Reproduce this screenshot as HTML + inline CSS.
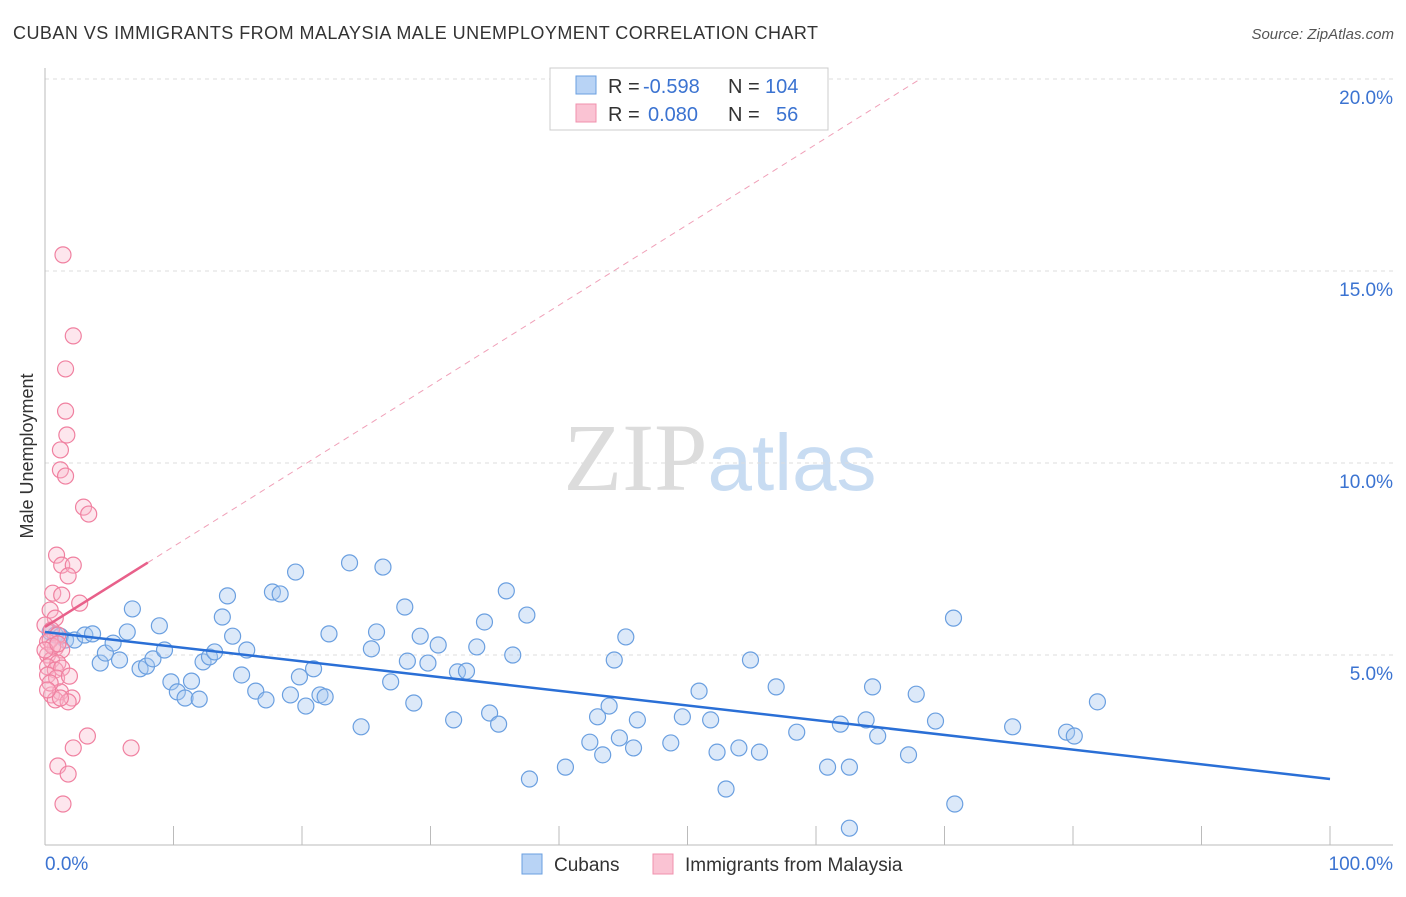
<!DOCTYPE html>
<html><head><meta charset="utf-8"><style>
body{margin:0;background:#fff;font-family:"Liberation Sans",sans-serif;}
svg text{font-family:"Liberation Sans",sans-serif;}
</style></head><body>
<svg id="chart" width="1406" height="892" viewBox="0 0 1406 892">
<text x="13" y="39" font-size="18" fill="#333" textLength="805" lengthAdjust="spacing">CUBAN VS IMMIGRANTS FROM MALAYSIA MALE UNEMPLOYMENT CORRELATION CHART</text>
<text x="1394" y="39" font-size="15" fill="#555" text-anchor="end" font-style="italic">Source: ZipAtlas.com</text>
<text x="720" y="490" font-size="96" text-anchor="middle"><tspan fill="#dcdcdc" font-family="Liberation Serif">ZIP</tspan><tspan fill="#c8dcf2" font-size="80">atlas</tspan></text>
<text transform="translate(33,456) rotate(-90)" font-size="18" fill="#333" text-anchor="middle">Male Unemployment</text>
<g id="grid"></g><g id="axes"></g><g id="marks"></g>
<g>
<rect x="550" y="68" width="278" height="62" fill="#fff" stroke="#ccc"/>
<rect x="576" y="76" width="20" height="18" fill="#b8d3f5" stroke="#6a9fe0"/>
<rect x="576" y="104" width="20" height="18" fill="#fac3d3" stroke="#f090ae"/>
<text x="608" y="93" font-size="20" fill="#333">R =</text>
<text x="643" y="93" font-size="20" fill="#3b73d1">-0.598</text>
<text x="728" y="93" font-size="20" fill="#333">N =</text>
<text x="765" y="93" font-size="20" fill="#3b73d1">104</text>
<text x="608" y="121" font-size="20" fill="#333">R =</text>
<text x="648" y="121" font-size="20" fill="#3b73d1">0.080</text>
<text x="728" y="121" font-size="20" fill="#333">N =</text>
<text x="776" y="121" font-size="20" fill="#3b73d1">56</text>
</g>
<g>
<rect x="522" y="854" width="20" height="20" fill="#b8d3f5" stroke="#6a9fe0"/>
<text x="554" y="871" font-size="19" fill="#333">Cubans</text>
<rect x="653" y="854" width="20" height="20" fill="#fac3d3" stroke="#f090ae"/>
<text x="685" y="871" font-size="19" fill="#333">Immigrants from Malaysia</text>
</g>
</svg>
<script>
const yTicks=[5,10,15,20];
const yTickLabels=["5.0%","10.0%","15.0%","20.0%"];
const cubanX=[0.4,0.8,1.2,1.6,2.3,3.1,3.7,4.3,4.7,5.3,5.8,6.4,6.8,7.4,7.9,8.4,8.9,9.3,9.8,10.3,10.9,11.4,12.0,12.3,12.8,13.2,13.8,14.2,14.6,15.3,15.7,16.4,17.2,17.7,18.3,19.1,19.5,19.8,20.3,20.9,21.4,21.8,22.1,23.7,24.6,25.4,25.8,26.3,26.9,28.0,28.2,28.7,29.2,29.8,30.6,31.8,32.1,32.8,33.6,34.2,34.6,35.3,35.9,36.4,37.5,37.7,40.5,42.4,43.0,43.4,43.9,44.3,44.7,45.2,45.8,46.1,48.7,49.6,50.9,51.8,52.3,53.0,54.0,54.9,55.6,56.9,58.5,60.9,61.9,62.6,62.6,63.9,64.4,64.8,67.2,67.8,69.3,70.7,70.8,75.3,79.5,80.1,81.9];
const cubanY=[5.60,5.52,5.49,5.39,5.39,5.52,5.55,4.79,5.05,5.31,4.87,5.60,6.20,4.64,4.71,4.90,5.76,5.13,4.30,4.04,3.88,4.32,3.85,4.82,4.95,5.08,5.99,6.54,5.49,4.48,5.13,4.06,3.83,6.64,6.59,3.96,7.16,4.43,3.67,4.64,3.96,3.91,5.55,7.40,3.13,5.16,5.60,7.29,4.30,6.25,4.84,3.75,5.49,4.79,5.26,3.31,4.56,4.58,5.21,5.86,3.49,3.20,6.67,5.00,6.04,1.77,2.08,2.73,3.39,2.40,3.67,4.87,2.84,5.47,2.58,3.31,2.71,3.39,4.06,3.31,2.47,1.51,2.58,4.87,2.47,4.17,2.99,2.08,3.20,0.49,2.08,3.31,4.17,2.89,2.40,3.98,3.28,5.96,1.12,3.13,2.99,2.89,3.78];
const malayX=[1.4,2.2,1.6,1.6,1.7,1.2,1.2,1.6,3.0,3.4,0.9,1.3,2.2,1.8,0.6,1.3,2.7,0.4,0.8,0.0,0.5,1.0,0.2,0.8,1.3,0.2,0.5,1.0,0.2,0.8,1.3,0.2,0.9,1.9,0.5,1.2,2.1,0.8,1.8,2.2,3.3,6.7,1.0,1.8,1.4,0.4,0.6,0.0,1.0,0.4,1.2,0.2];
const malayY=[15.42,13.31,12.45,11.35,10.73,10.34,9.82,9.66,8.85,8.67,7.60,7.34,7.34,7.06,6.61,6.56,6.35,6.17,5.96,5.78,5.65,5.52,5.34,5.18,5.13,5.00,4.87,4.79,4.69,4.61,4.66,4.48,4.40,4.45,3.96,4.04,3.88,3.83,3.78,2.58,2.89,2.58,2.11,1.90,1.12,5.39,5.23,5.13,5.29,4.27,3.88,4.09];
const cubanTrend=[5.60,-0.0383];
const malayTrend=[5.73,0.2095];
const NS="http://www.w3.org/2000/svg";
const sx=v=>45+v*12.85, sy=v=>847-v*38.4;
function mk(p,tag,at){const e=document.createElementNS(NS,tag);for(const k in at)e.setAttribute(k,at[k]);p.appendChild(e);return e;}
const grid=document.getElementById('grid'),axes=document.getElementById('axes'),marks=document.getElementById('marks');
yTicks.forEach((t,i)=>{
 const l=mk(grid,'line',{x1:45,x2:1393,y1:sy(t),y2:sy(t),stroke:'#ddd','stroke-dasharray':'4,4'});
 
 
 const tx=mk(axes,'text',{x:1393,y:sy(t)+25,'font-size':19,fill:'#3b73d1','text-anchor':'end'});tx.textContent=yTickLabels[i];
 
 
});
mk(axes,'line',{x1:45,x2:45,y1:68,y2:845,stroke:'#bbb'});
mk(axes,'line',{x1:45,x2:1393,y1:845,y2:845,stroke:'#bbb'});
for(let i=0;i<=10;i++){const t=mk(axes,'line',{x1:sx(i*10),x2:sx(i*10),y1:826,y2:845,stroke:'#bbb'});
 
 }
const xl=mk(axes,'text',{x:45,y:870,'font-size':19,fill:'#3b73d1'});xl.textContent='0.0%';


const xr=mk(axes,'text',{x:1393,y:870,'font-size':19,fill:'#3b73d1','text-anchor':'end'});xr.textContent='100.0%';


cubanX.forEach((x,i)=>{const c=mk(marks,'circle',{cx:sx(x),cy:sy(cubanY[i]),r:8,fill:'#a8c8f0','fill-opacity':0.4,stroke:'#6a9fe0','stroke-width':1.2});
 
 });
malayX.forEach((x,i)=>{const c=mk(marks,'circle',{cx:sx(x),cy:sy(malayY[i]),r:8,fill:'#f8b8cc','fill-opacity':0.35,stroke:'#f080a0','stroke-width':1.2});
 
 });
const bt=mk(marks,'line',{x1:sx(0),y1:sy(cubanTrend[0]),x2:sx(100),y2:sy(cubanTrend[0]+cubanTrend[1]*100),stroke:'#2a6fd6','stroke-width':2.5});


const xEnd=(20-malayTrend[0])/malayTrend[1];
const pd=mk(marks,'line',{x1:sx(8),y1:sy(malayTrend[0]+malayTrend[1]*8),x2:sx(xEnd),y2:sy(20),stroke:'#f0a0b8','stroke-width':1,'stroke-dasharray':'6,5'});


const pt=mk(marks,'line',{x1:sx(0),y1:sy(malayTrend[0]),x2:sx(8),y2:sy(malayTrend[0]+malayTrend[1]*8),stroke:'#e8608a','stroke-width':2.5});


</script>
</body></html>
